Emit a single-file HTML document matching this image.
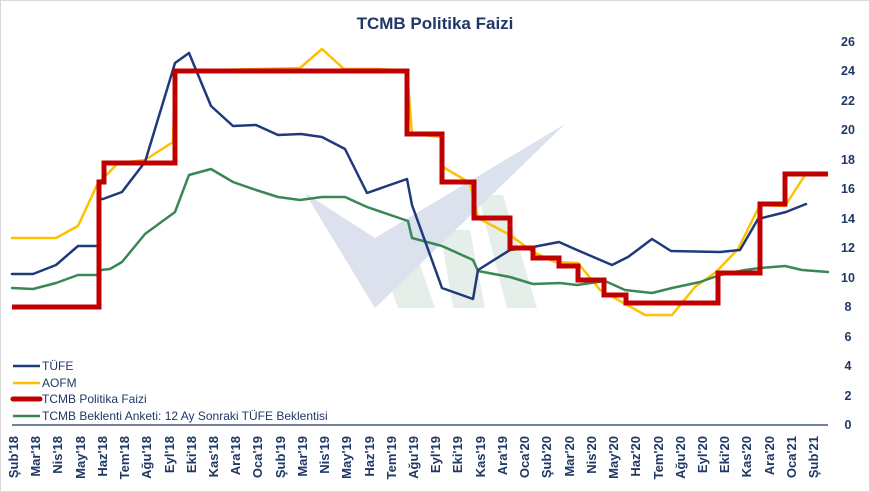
<!DOCTYPE html>
<html><head><meta charset="utf-8"><style>
html,body{margin:0;padding:0;background:#fff;}
svg{display:block;font-family:"Liberation Sans",sans-serif;}
</style></head><body>
<svg width="870" height="492" viewBox="0 0 870 492" xmlns="http://www.w3.org/2000/svg">
<rect x="0.5" y="0.5" width="869" height="491" fill="#fff" stroke="#d9d9d9"/>
<text x="435" y="29" text-anchor="middle" font-size="17" font-weight="bold" fill="#1f3864">TCMB Politika Faizi</text>
<!-- watermark -->
<g opacity="0.75">
<polygon points="383,265 420,265 435,308 398,308" fill="#dde9e1"/>
<polygon points="440,230 470,230 485,308 453,308" fill="#dde9e1"/>
<polygon points="478,195 503,195 537,308 507,308" fill="#dde9e1"/>
<polygon points="305,193 375,308 565,124 375,238" fill="#d0d7e7"/>
</g>
<!-- y labels -->
<g font-size="12.5" font-weight="bold" fill="#1f3864" text-anchor="middle">
<text x="848" y="429">0</text><text x="848" y="400">2</text><text x="848" y="370">4</text>
<text x="848" y="341">6</text><text x="848" y="311">8</text><text x="848" y="282">10</text>
<text x="848" y="252">12</text><text x="848" y="223">14</text><text x="848" y="193">16</text>
<text x="848" y="164">18</text><text x="848" y="134">20</text><text x="848" y="105">22</text>
<text x="848" y="75">24</text><text x="848" y="46">26</text>
</g>
<line x1="12" y1="425" x2="828" y2="425" stroke="#1f3864" stroke-width="1.3"/>
<!-- x labels -->
<g font-size="13" font-weight="bold" fill="#1f3864" text-anchor="end">
<text transform="translate(18,436) rotate(-90)">Şub'18</text>
<text transform="translate(40,436) rotate(-90)">Mar'18</text>
<text transform="translate(62,436) rotate(-90)">Nis'18</text>
<text transform="translate(85,436) rotate(-90)">May'18</text>
<text transform="translate(107,436) rotate(-90)">Haz'18</text>
<text transform="translate(129,436) rotate(-90)">Tem'18</text>
<text transform="translate(151,436) rotate(-90)">Ağu'18</text>
<text transform="translate(174,436) rotate(-90)">Eyl'18</text>
<text transform="translate(196,436) rotate(-90)">Eki'18</text>
<text transform="translate(218,436) rotate(-90)">Kas'18</text>
<text transform="translate(240,436) rotate(-90)">Ara'18</text>
<text transform="translate(262,436) rotate(-90)">Oca'19</text>
<text transform="translate(285,436) rotate(-90)">Şub'19</text>
<text transform="translate(307,436) rotate(-90)">Mar'19</text>
<text transform="translate(329,436) rotate(-90)">Nis'19</text>
<text transform="translate(351,436) rotate(-90)">May'19</text>
<text transform="translate(374,436) rotate(-90)">Haz'19</text>
<text transform="translate(396,436) rotate(-90)">Tem'19</text>
<text transform="translate(418,436) rotate(-90)">Ağu'19</text>
<text transform="translate(440,436) rotate(-90)">Eyl'19</text>
<text transform="translate(462,436) rotate(-90)">Eki'19</text>
<text transform="translate(485,436) rotate(-90)">Kas'19</text>
<text transform="translate(507,436) rotate(-90)">Ara'19</text>
<text transform="translate(529,436) rotate(-90)">Oca'20</text>
<text transform="translate(551,436) rotate(-90)">Şub'20</text>
<text transform="translate(574,436) rotate(-90)">Mar'20</text>
<text transform="translate(596,436) rotate(-90)">Nis'20</text>
<text transform="translate(618,436) rotate(-90)">May'20</text>
<text transform="translate(640,436) rotate(-90)">Haz'20</text>
<text transform="translate(663,436) rotate(-90)">Tem'20</text>
<text transform="translate(685,436) rotate(-90)">Ağu'20</text>
<text transform="translate(707,436) rotate(-90)">Eyl'20</text>
<text transform="translate(729,436) rotate(-90)">Eki'20</text>
<text transform="translate(751,436) rotate(-90)">Kas'20</text>
<text transform="translate(774,436) rotate(-90)">Ara'20</text>
<text transform="translate(796,436) rotate(-90)">Oca'21</text>
<text transform="translate(818,436) rotate(-90)">Şub'21</text>
</g>
<g fill="none" stroke-linejoin="round" stroke-linecap="round">
<polyline stroke="#ffc000" stroke-width="2.5" points="12,238 56,238 78,226 97,185 118,163 145,160 173,142 175,71 300,68 322,49 344,69 380,69 407,71 412,134 443,137 443,167 470,183 478,218 510,235 533,252 555,262 578,263 600,290 622,302 645,315 672,315 695,287 716,272 738,249 760,205 785,206 805,175"/>
<polyline stroke="#3a8756" stroke-width="2.5" points="12,288 33,289 56,283 78,275 99,275 101,270 110,269 122,262 145,234 175,212 189,175 211,169 233,182 256,190 278,197 300,200 322,197 345,197 367,207 408,221 412,238 442,246 473,260 478,271 510,277 533,284 560,283 577,285 605,281 625,290 652,293 672,288 700,282 720,275 745,270 760,268 785,266 802,270 828,272"/>
<polyline stroke="#1f3a7a" stroke-width="2.5" points="12,274 33,274 56,265 78,246 97,246"/>
<polyline stroke="#1f3a7a" stroke-width="2.5" points="101,199 103,199 122,192 145,162 175,63 189,53 211,106 233,126 256,125 278,135 301,134 322,137 345,149 367,193 407,179 412,205 442,288 473,299 478,270 510,250 533,247 559,242 577,250 612,265 628,257 652,239 671,251 720,252 740,250 758,219 786,212 806,204"/>
<polyline stroke="#c00000" stroke-width="5" stroke-linejoin="miter" stroke-linecap="butt" points="12,307 99,307 99,182 104,182 104,163 175,163 175,71 407,71 407,134 442,134 442,182 474,182 474,218 510,218 510,248 533,248 533,258 559,258 559,266 578,266 578,280 604,280 604,295 626,295 626,303 718,303 718,273 760,273 760,204 785,204 785,174 828,174"/>
</g>
<g font-size="12" fill="#1f3864">
<line x1="13" y1="366" x2="40" y2="366" stroke="#1f3a7a" stroke-width="2.5"/><text x="42" y="370">TÜFE</text>
<line x1="13" y1="383" x2="40" y2="383" stroke="#ffc000" stroke-width="2.5"/><text x="42" y="387">AOFM</text>
<line x1="13" y1="399" x2="40" y2="399" stroke="#c00000" stroke-width="5" stroke-linecap="round"/><text x="42" y="403">TCMB Politika Faizi</text>
<line x1="13" y1="416" x2="40" y2="416" stroke="#3a8756" stroke-width="2.5"/><text x="42" y="420">TCMB Beklenti Anketi: 12 Ay Sonraki TÜFE Beklentisi</text>
</g>
</svg>
</body></html>
